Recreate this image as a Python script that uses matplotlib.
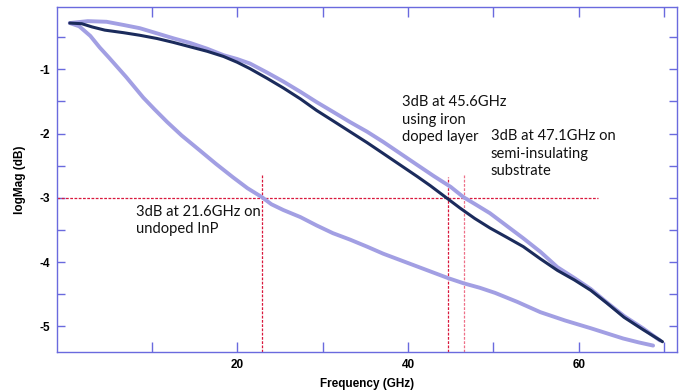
import matplotlib
matplotlib.use("Agg")
import matplotlib.pyplot as plt

# ---- data ----
freq_iron = [0.4, 1.8, 3.0, 4.5, 6.7, 8.6, 10.6, 12.5, 14.5, 16.5, 18.4, 20.0, 21.5, 23.5,
             25.4, 27.4, 29.3, 31.2, 33.2, 35.2, 37.1, 39.1, 41.1, 42.6, 44.1, 45.1, 46.1,
             47.8, 49.6, 51.5, 53.5, 55.5, 57.5, 59.5, 61.4, 63.3, 65.3, 67.5, 69.8]
mag_iron = [-0.28, -0.29, -0.34, -0.39, -0.43, -0.47, -0.52, -0.58, -0.65, -0.72, -0.80, -0.89,
            -0.99, -1.14, -1.29, -1.46, -1.64, -1.80, -1.97, -2.14, -2.31, -2.49, -2.67, -2.81,
            -2.96, -3.06, -3.16, -3.32, -3.47, -3.61, -3.76, -3.95, -4.13, -4.28, -4.44, -4.64,
            -4.86, -5.05, -5.24]

freq_si = [0.4, 2.5, 4.7, 6.7, 8.6, 10.6, 12.6, 14.5, 16.5, 18.4, 20.0, 21.5, 23.5, 25.4,
           27.4, 29.3, 31.2, 33.2, 35.2, 37.1, 39.1, 41.1, 43.0, 45.0, 46.5, 48.0, 49.6,
           51.5, 53.5, 55.5, 57.5, 59.5, 61.4, 63.3, 65.3, 67.5, 69.5]
mag_si = [-0.28, -0.25, -0.26, -0.31, -0.36, -0.44, -0.52, -0.59, -0.68, -0.78, -0.84, -0.91,
          -1.05, -1.19, -1.35, -1.51, -1.66, -1.82, -1.97, -2.13, -2.31, -2.49, -2.66, -2.83,
          -2.99, -3.11, -3.24, -3.43, -3.63, -3.84, -4.08, -4.25, -4.42, -4.63, -4.84, -5.03,
          -5.22]

freq_undoped = [0.4, 1.5, 2.8, 3.9, 5.0, 6.0, 7.0, 8.0, 9.0, 10.3, 11.8, 13.5, 15.6, 17.5,
                19.5, 21.2, 22.9, 24.0, 25.4, 27.4, 29.3, 31.2, 33.2, 35.2, 37.1, 39.1, 41.9,
                44.7, 46.5, 48.4, 50.2, 52.8, 55.5, 58.4, 61.4, 63.3, 65.2, 67.0, 68.7]
mag_undoped = [-0.28, -0.33, -0.48, -0.66, -0.82, -0.97, -1.12, -1.28, -1.44, -1.62, -1.82,
               -2.03, -2.26, -2.47, -2.68, -2.85, -2.99, -3.10, -3.19, -3.30, -3.43, -3.55,
               -3.65, -3.76, -3.87, -3.97, -4.11, -4.25, -4.33, -4.40, -4.48, -4.62, -4.78,
               -4.91, -5.03, -5.11, -5.19, -5.25, -5.30]

cutoff_level = -3.0
cutoff_freqs = [22.9, 44.7, 46.6]
cutoff_tops = [-2.65, -2.68, -2.65]
hline_end = 62.3

xticks_major = [20, 40, 60]
xticks_minor = [10, 30, 50, 70]
yticks_major = [-1, -2, -3, -4, -5]
yticks_minor = [-0.5, -1.5, -2.5, -3.5, -4.5]

annotations = [
    "3dB at 45.6GHz\nusing iron\ndoped layer",
    "3dB at 47.1GHz on\nsemi-insulating\nsubstrate",
    "3dB at 21.6GHz on\nundoped InP",
]

# ---- styling ----
light = "#a29fe3"
dark = "#1b2b5c"
axcol = "#6a6ade"
red = "#d9183d"

fig = plt.figure(figsize=(6.86, 3.91), dpi=100)
ax = fig.add_axes([57/686, 39/391, 620/686, 345/391])

ax.plot(freq_si, mag_si, color=light, lw=2.8, solid_capstyle="round", solid_joinstyle="round", zorder=3)
ax.plot(freq_undoped, mag_undoped, color=light, lw=2.8, solid_capstyle="round", solid_joinstyle="round", zorder=3)
ax.plot(freq_iron, mag_iron, color=dark, lw=2.2, solid_capstyle="round", solid_joinstyle="round", zorder=4)

xmin, xmax = -1.1, 71.5
ymin, ymax = -5.40, -0.03
ax.set_xlim(xmin, xmax)
ax.set_ylim(ymin, ymax)

# dashed reference lines
ax.plot([xmin, hline_end], [cutoff_level, cutoff_level], color=red, lw=0.9,
        linestyle=(0, (2.2, 1.2)), zorder=2)
vcols = [red, red, "#ee7088"]
for f, t, c in zip(cutoff_freqs, cutoff_tops, vcols):
    ax.plot([f, f], [ymin, t], color=c, lw=0.9, linestyle=(0, (2.2, 1.2)), zorder=2)

# annotations
tfont = dict(family=["Lato", "DejaVu Sans"], fontsize=10.6, color="#111111",
             linespacing=1.32, va="top", ha="left")
ax.text(39.3, -1.40, annotations[0], **tfont)
ax.text(49.7, -1.93, annotations[1], **tfont)
ax.text(8.2, -3.11, annotations[2], **tfont)

# axes styling
for s in ax.spines.values():
    s.set_color(axcol)
    s.set_linewidth(1.0)

ax.set_xticks(xticks_major)
ax.set_xticks(xticks_minor, minor=True)
ax.set_yticks(yticks_major)
ax.set_yticks(yticks_minor, minor=True)
ax.set_xticklabels([str(v) for v in xticks_major])
ax.set_yticklabels([str(v) for v in yticks_major])

ax.tick_params(axis="x", which="both", direction="in", length=7, width=1.0, color=axcol,
               top=True, pad=5, labelsize=8.5)
ax.tick_params(axis="y", which="both", direction="in", length=5.5, width=1.0, color=axcol,
               right=True, pad=5, labelsize=8.5)
for lab in ax.get_xticklabels() + ax.get_yticklabels():
    lab.set_fontweight("bold")
    lab.set_family(["Liberation Sans", "DejaVu Sans"])

ax.set_xlabel("Frequency (GHz)", fontsize=8.5, fontweight="bold",
              family=["Liberation Sans", "DejaVu Sans"], labelpad=5)
ax.set_ylabel("logMag (dB)", fontsize=8.5, fontweight="bold",
              family=["Liberation Sans", "DejaVu Sans"], labelpad=10)

fig.savefig("out.png", dpi=100)
